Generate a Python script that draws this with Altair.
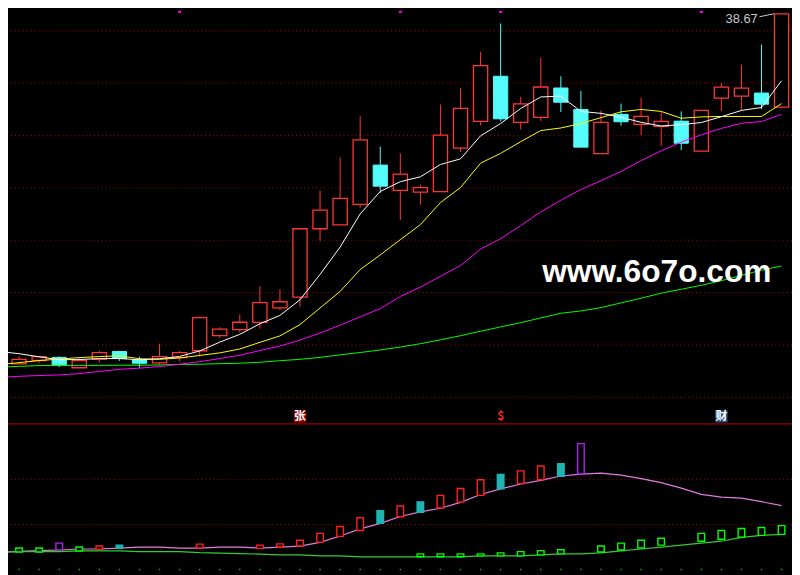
import altair as alt
import pandas as pd

# ---------------- data ----------------
idx = list(range(39))
open_ = [20.74, 20.91, 21.07, 20.54, 20.97, 21.37, 20.94, 20.79, 21.06, 21.41,
         22.19, 22.49, 22.86, 23.61, 24.16, 27.66, 27.86, 28.91, 30.92, 29.62,
         29.54, 29.56, 31.79, 33.16, 35.47, 33.11, 33.36, 34.87, 33.77, 31.51,
         33.52, 33.01, 32.91, 33.17, 31.64, 34.35, 34.45, 34.61, 33.89]
high = [21.12, 21.11, 21.12, 21.07, 21.41, 21.37, 21.11, 21.77, 21.41, 23.16,
        22.62, 23.27, 24.72, 24.56, 27.66, 29.62, 31.32, 33.42, 31.87, 31.52,
        29.92, 34.02, 34.87, 36.72, 38.17, 34.42, 36.42, 35.47, 34.72, 33.72,
        34.07, 34.37, 33.66, 33.67, 33.72, 35.12, 36.07, 37.09, 38.67]
low = [20.74, 20.79, 20.57, 20.54, 20.79, 20.89, 20.54, 20.67, 20.86, 21.11,
       22.07, 22.34, 22.54, 23.49, 23.66, 27.04, 27.86, 28.74, 29.49, 28.11,
       28.89, 29.56, 31.59, 32.95, 33.16, 32.74, 33.19, 33.64, 31.84, 31.51,
       32.94, 32.46, 31.89, 31.69, 31.64, 33.69, 33.74, 33.79, 33.89]
close = [20.97, 21.11, 20.67, 20.91, 21.31, 21.01, 20.77, 21.11, 21.31, 23.11,
         22.52, 22.87, 23.87, 23.92, 27.66, 28.61, 29.21, 32.21, 29.84, 30.46,
         29.77, 32.46, 33.82, 36.01, 33.29, 34.06, 34.92, 34.14, 31.84, 33.11,
         33.14, 33.41, 33.16, 32.04, 33.72, 34.91, 34.86, 34.04, 38.67]

# moving averages, from the bar before the first visible one
ma_idx = list(range(-1, 39))
ma5 = [21.37, 21.26, 21.10, 20.95, 20.96, 21.01, 21.01, 20.95, 21.00, 21.12,
       21.40, 21.85, 22.25, 22.79, 23.22, 24.02, 25.32, 26.72, 28.42, 29.57,
       30.07, 30.32, 30.95, 31.24, 32.42, 33.05, 33.82, 34.41, 34.45, 33.67,
       33.57, 33.37, 33.11, 32.92, 32.99, 33.10, 33.40, 33.72, 33.87, 35.24]
ma10 = [20.70, 20.80, 20.91, 20.98, 21.06, 21.11, 21.15, 21.00, 20.97, 21.04,
        21.17, 21.30, 21.50, 21.84, 22.17, 22.75, 23.60, 24.45, 25.57, 26.32,
        27.10, 27.87, 29.00, 29.77, 31.02, 31.52, 32.12, 32.69, 32.82, 33.05,
        33.35, 33.65, 33.77, 33.67, 33.32, 33.39, 33.41, 33.41, 33.41, 34.07]
ma20 = [20.05, 20.10, 20.14, 20.17, 20.24, 20.35, 20.46, 20.52, 20.60, 20.72,
        20.85, 21.01, 21.18, 21.42, 21.65, 21.96, 22.32, 22.72, 23.15, 23.57,
        24.19, 24.67, 25.22, 25.77, 26.62, 27.15, 27.82, 28.52, 29.12, 29.67,
        30.12, 30.60, 31.15, 31.65, 32.10, 32.47, 32.80, 33.06, 33.15, 33.52]
ma60 = [20.57, 20.61, 20.65, 20.66, 20.66, 20.66, 20.67, 20.67, 20.68, 20.71,
        20.72, 20.75, 20.77, 20.82, 20.90, 20.97, 21.07, 21.20, 21.32, 21.45,
        21.60, 21.77, 21.97, 22.18, 22.41, 22.63, 22.85, 23.09, 23.33, 23.45,
        23.62, 23.86, 24.10, 24.36, 24.56, 24.76, 25.00, 25.27, 25.54, 25.75]

# lower indicator pane
ind_pink = [3.87, 4.02, 4.20, 4.35, 4.57, 4.57, 4.78, 5.00, 5.00, 4.78,
            4.78, 5.00, 5.00, 4.78, 5.00, 5.22, 6.04, 7.46, 9.04, 10.28,
            11.80, 12.83, 13.65, 14.96, 16.70, 17.96, 19.04, 19.85, 20.83, 21.26,
            21.48, 21.00, 20.24, 19.35, 18.11, 16.74, 16.13, 15.89, 15.11, 14.24]
ind_green = [3.87, 3.98, 3.98, 3.98, 4.13, 4.13, 4.13, 3.98, 3.98, 3.98,
             3.76, 3.65, 3.54, 3.43, 3.26, 3.26, 3.04, 3.04, 2.83, 2.83,
             2.83, 2.83, 2.83, 2.83, 3.04, 3.04, 3.04, 3.26, 3.48, 3.48,
             3.70, 4.13, 4.57, 5.00, 5.43, 5.87, 6.30, 7.17, 7.61, 7.83]

box_i = [2, 4, 5, 9, 12, 13, 14, 15, 16, 17, 18, 19, 20, 21, 22, 23, 24, 25, 26, 27, 28]
box_lo = [4.35, 4.48, 4.70, 4.78, 4.70, 5.00, 5.22, 6.09, 7.39, 8.70, 10.28,
          11.74, 12.74, 13.70, 15.00, 16.52, 17.96, 19.13, 20.00, 20.78, 21.30]
box_hi = [5.87, 5.22, 5.43, 5.65, 5.43, 5.72, 6.52, 8.04, 9.57, 11.52, 13.11,
          14.13, 15.07, 16.52, 18.04, 20.00, 21.15, 21.96, 23.04, 23.54, 28.04]
box_kind = ["purple", "red", "cyan", "red", "red", "red", "red", "red", "red", "red", "cyan",
            "red", "cyan", "red", "red", "red", "cyan", "red", "red", "cyan", "purple"]

gbox_i = [0, 1, 3, 20, 21, 22, 23, 24, 25, 26, 27, 29, 30, 31, 32, 34, 35, 36, 37, 38]
gbox_lo = [3.91, 3.91, 4.13, 2.83, 2.83, 2.83, 3.04, 3.04, 3.04, 3.26, 3.48,
           3.91, 4.35, 4.78, 5.43, 6.30, 6.74, 7.17, 7.61, 7.83]
gbox_hi = [4.78, 4.78, 5.00, 3.48, 3.48, 3.48, 3.48, 3.70, 3.98, 4.20, 4.41,
           5.22, 5.87, 6.52, 6.96, 8.04, 8.70, 9.13, 9.35, 9.78]

grid_upper = [37.80, 35.12, 32.44, 29.75, 27.07, 24.39, 21.70, 19.02]
grid_lower = [20, 10]
separator = [17.66]

marker_i = [8, 19, 24, 34]
icon_i = [14, 24, 35]
icon_txt = ["张", "$", "财"]
icon_price = 18.045
high_label = "38.67"
watermark = "www.6o7o.com"

# ---------------- scales ----------------
X = alt.Scale(domain=[-0.552, 38.52], nice=False, zero=False)
YU = alt.Scale(domain=[17.655, 38.82], range=[417.41, 0], nice=False, zero=False)
YL = alt.Scale(domain=[0, 35], range=[564.34, 405.58], nice=False, zero=False)


def xq(f):
    return alt.X(f"{f}:Q", scale=X, axis=None)


def yu(f):
    return alt.Y(f"{f}:Q", scale=YU, axis=None)


def yl(f):
    return alt.Y(f"{f}:Q", scale=YL, axis=None)


RED = "#ff3636"
CYAN = "#54fcfc"

cd = pd.DataFrame({"i": idx, "o": open_, "h": high, "l": low, "c": close})
cd["up"] = cd["c"] >= cd["o"]
up_df = cd[cd["up"]]
dn_df = cd[~cd["up"]]

mad = pd.DataFrame({"i": ma_idx, "ma5": ma5, "ma10": ma10, "ma20": ma20, "ma60": ma60,
                    "pink": ind_pink, "green": ind_green})

layers = []

# grids
layers.append(alt.Chart(pd.DataFrame({"g": grid_upper})).mark_rule(
    color="#b40000", strokeDash=[1, 3], strokeWidth=1).encode(y=yu("g")))
layers.append(alt.Chart(pd.DataFrame({"g": grid_lower})).mark_rule(
    color="#b40000", strokeDash=[1, 3], strokeWidth=1).encode(y=yl("g")))
layers.append(alt.Chart(pd.DataFrame({"g": separator})).mark_rule(
    color="#a00000", strokeWidth=1.2).encode(y=yu("g")))

# wicks
layers.append(alt.Chart(up_df).mark_rule(color=RED, strokeWidth=1).encode(
    x=xq("i"), y=yu("l"), y2=alt.Y2("h:Q")))
layers.append(alt.Chart(dn_df).mark_rule(color=CYAN, strokeWidth=1).encode(
    x=xq("i"), y=yu("l"), y2=alt.Y2("h:Q")))

# bodies
layers.append(alt.Chart(up_df).transform_calculate(
    x0="datum.i - 0.354", x1="datum.i + 0.354").mark_rect(
    fill="black", stroke=RED, strokeWidth=1.3).encode(
    x=xq("x0"), x2=alt.X2("x1:Q"), y=yu("o"), y2=alt.Y2("c:Q")))
layers.append(alt.Chart(dn_df).transform_calculate(
    x0="datum.i - 0.354", x1="datum.i + 0.354").mark_rect(
    fill=CYAN, stroke=CYAN, strokeWidth=1).encode(
    x=xq("x0"), x2=alt.X2("x1:Q"), y=yu("o"), y2=alt.Y2("c:Q")))

# moving averages
for f, col in [("ma60", "#00ff00"), ("ma20", "#ff00ff"), ("ma10", "#ffff00"), ("ma5", "#ffffff")]:
    layers.append(alt.Chart(mad).mark_line(color=col, strokeWidth=1, clip=True).encode(
        x=xq("i"), y=yu(f)))

# top markers
layers.append(alt.Chart(pd.DataFrame({"i": marker_i})).transform_calculate(
    x0="datum.i - 0.08", x1="datum.i + 0.08", y0="38.72", y1="38.82").mark_rect(
    color="#ff00ff").encode(x=xq("x0"), x2=alt.X2("x1:Q"), y=yu("y0"), y2=alt.Y2("y1:Q")))

# icons near the pane separator
icons = pd.DataFrame({"i": icon_i, "t": icon_txt, "p": icon_price,
                      "bg": ["#8c0000", "none", "#1f4e7c"],
                      "fg": ["#ffffff", "#ff2020", "#ffffff"]})
layers.append(alt.Chart(icons[icons["bg"] != "none"]).transform_calculate(
    x0="datum.i - 0.31", x1="datum.i + 0.31", y0="datum.p - 0.31", y1="datum.p + 0.31").mark_rect().encode(
    x=xq("x0"), x2=alt.X2("x1:Q"), y=yu("y0"), y2=alt.Y2("y1:Q"),
    color=alt.Color("bg:N", scale=None)))
layers.append(alt.Chart(icons).mark_text(
    font="Noto Sans CJK SC", fontSize=12, fontWeight="bold", baseline="middle", align="center").encode(
    x=xq("i"), y=yu("p"), text="t:N", color=alt.Color("fg:N", scale=None)))

# lower pane lines
layers.append(alt.Chart(mad).mark_line(color="#e07ce0", strokeWidth=1.2, clip=True).encode(
    x=xq("i"), y=yl("pink")))
layers.append(alt.Chart(mad).mark_line(color="#33cc33", strokeWidth=1.2, clip=True).encode(
    x=xq("i"), y=yl("green")))

# lower pane boxes
bd = pd.DataFrame({"i": box_i, "lo": box_lo, "hi": box_hi, "k": box_kind})
stroke_map = {"red": "#ff2020", "cyan": "#1fb4b4", "purple": "#b020f0"}
fill_map = {"red": "black", "cyan": "#1fb4b4", "purple": "black"}
bd["s"] = bd["k"].map(stroke_map)
bd["f"] = bd["k"].map(fill_map)
layers.append(alt.Chart(bd).transform_calculate(
    x0="datum.i - 0.164", x1="datum.i + 0.164").mark_rect(strokeWidth=1.4).encode(
    x=xq("x0"), x2=alt.X2("x1:Q"), y=yl("lo"), y2=alt.Y2("hi:Q"),
    stroke=alt.Stroke("s:N", scale=None), fill=alt.Fill("f:N", scale=None)))
gd = pd.DataFrame({"i": gbox_i, "lo": gbox_lo, "hi": gbox_hi})
layers.append(alt.Chart(gd).transform_calculate(
    x0="datum.i - 0.164", x1="datum.i + 0.164").mark_rect(
    fill="black", stroke="#00ff00", strokeWidth=1.4).encode(
    x=xq("x0"), x2=alt.X2("x1:Q"), y=yl("lo"), y2=alt.Y2("hi:Q")))

# bottom tick dots
layers.append(alt.Chart(pd.DataFrame({"i": idx, "z": 0})).mark_square(
    color="#00c000", size=2, opacity=1).encode(x=xq("i"), y=yl("z")))

# high label with leader line
hi_i = int(cd["h"].idxmax())
hi_v = float(cd["h"].max())
lab = pd.DataFrame({"i": [hi_i], "h": [hi_v], "t": [high_label]})
layers.append(alt.Chart(lab).transform_calculate(
    x0="datum.i - 1.1", x1="datum.i - 0.38", y0="datum.h - 0.15").mark_rule(
    color="#c8c8c8", strokeWidth=1).encode(
    x=xq("x0"), x2=alt.X2("x1:Q"), y=yu("y0"), y2=alt.Y2("h:Q")))
layers.append(alt.Chart(lab).transform_calculate(
    lx="datum.i - 1.19", ly="datum.h - 0.49").mark_text(
    font="Liberation Sans", fontSize=13, color="#c8c8c8", align="right", baseline="alphabetic").encode(
    x=xq("lx"), y=yu("ly"), text="t:N"))

# watermark
layers.append(alt.Chart(pd.DataFrame({"i": [31.78], "p": [24.955], "t": [watermark]})).mark_text(
    font="Liberation Sans", fontWeight="bold", fontSize=32, color="#ffffff",
    align="center", baseline="alphabetic").encode(x=xq("i"), y=yu("p"), text="t:N"))

chart = alt.layer(*layers).resolve_scale(y="independent").properties(
    width=792, height=567, background="black", padding=0,
    autosize=alt.AutoSizeParams(type="none"),
).configure_view(stroke=None)

chart.save("out.html", embed_options={"renderer": "svg", "actions": False})
